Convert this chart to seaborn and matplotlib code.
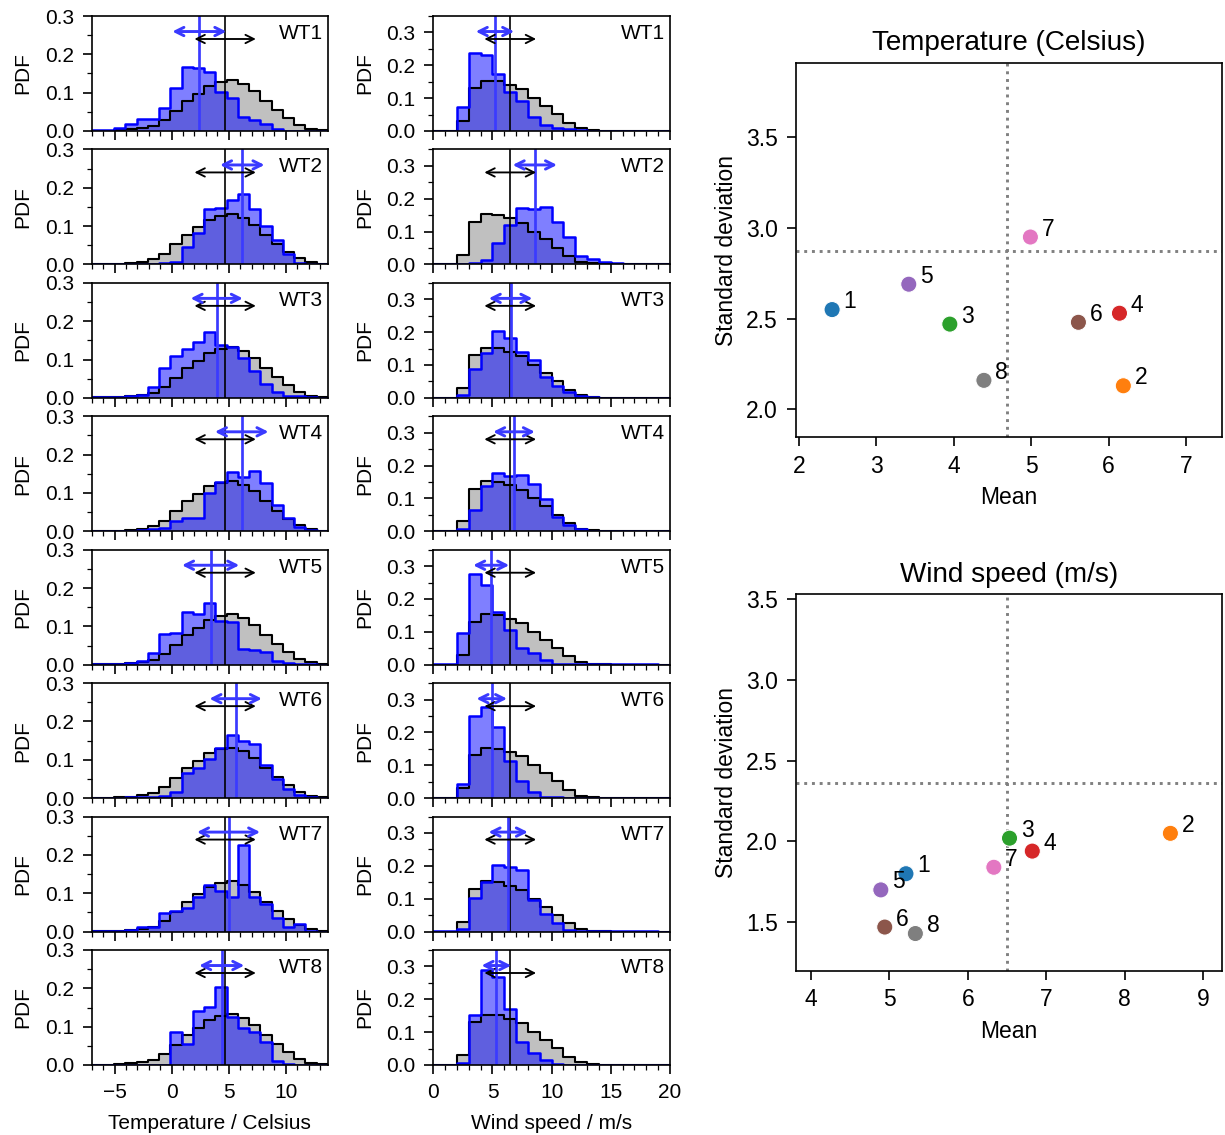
import numpy as np
import pandas as pd
import matplotlib
matplotlib.use("Agg")
import matplotlib.pyplot as plt
from matplotlib.ticker import MultipleLocator
import seaborn as sns

# ---------------------------------------------------------------- data
weather_types = ["WT1", "WT2", "WT3", "WT4", "WT5", "WT6", "WT7", "WT8"]

# Temperature histograms: 21 equal bins spanning -7 .. 13.7 Celsius
temp_range = (-7.0, 13.7)
temp_nbins = 21
temp_all = [0.001, 0.001, 0.002, 0.004, 0.007, 0.013, 0.028, 0.052, 0.078, 0.097, 0.117,
            0.127, 0.132, 0.122, 0.104, 0.078, 0.054, 0.033, 0.016, 0.006, 0.002]
temp_wt1 = [0.002, 0.003, 0.007, 0.018, 0.032, 0.032, 0.061, 0.113, 0.167, 0.165, 0.153,
            0.103, 0.085, 0.037, 0.030, 0.018, 0.004, 0.001, 0.001, 0.001, 0.000]
temp_wt2 = [0.001, 0.001, 0.001, 0.001, 0.001, 0.002, 0.003, 0.006, 0.046, 0.083, 0.144,
            0.146, 0.167, 0.184, 0.145, 0.100, 0.064, 0.026, 0.004, 0.001, 0.000]
temp_wt3 = [0.001, 0.001, 0.002, 0.005, 0.008, 0.029, 0.077, 0.108, 0.128, 0.145, 0.171,
            0.139, 0.133, 0.104, 0.070, 0.036, 0.016, 0.006, 0.004, 0.002, 0.000]
temp_wt4 = [0.001, 0.001, 0.001, 0.002, 0.003, 0.005, 0.008, 0.028, 0.035, 0.035, 0.100,
            0.128, 0.155, 0.141, 0.156, 0.125, 0.068, 0.035, 0.010, 0.003, 0.001]
temp_wt5 = [0.001, 0.001, 0.001, 0.004, 0.010, 0.030, 0.080, 0.083, 0.138, 0.131, 0.162,
            0.115, 0.112, 0.042, 0.038, 0.032, 0.010, 0.004, 0.002, 0.001, 0.000]
temp_wt6 = [0.001, 0.001, 0.001, 0.002, 0.003, 0.004, 0.006, 0.015, 0.065, 0.078, 0.103,
            0.131, 0.166, 0.150, 0.142, 0.087, 0.050, 0.023, 0.007, 0.002, 0.001]
temp_wt7 = [0.001, 0.001, 0.001, 0.004, 0.013, 0.013, 0.048, 0.054, 0.061, 0.091, 0.122,
            0.106, 0.089, 0.226, 0.091, 0.072, 0.035, 0.013, 0.020, 0.002, 0.000]
temp_wt8 = [0.001, 0.001, 0.001, 0.001, 0.001, 0.001, 0.001, 0.085, 0.054, 0.140, 0.152,
            0.204, 0.126, 0.097, 0.087, 0.059, 0.010, 0.002, 0.001, 0.001, 0.000]

# Wind speed histograms: 1 m/s bins from 0 to 20
wind_range = (0.0, 20.0)
wind_nbins = 20
wind_all = [0.000, 0.000, 0.030, 0.130, 0.153, 0.151, 0.140, 0.127, 0.100, 0.076,
            0.051, 0.025, 0.008, 0.003, 0.001, 0.000, 0.000, 0.000, 0.000, 0.000]
wind_wt1 = [0.001, 0.001, 0.072, 0.236, 0.230, 0.174, 0.120, 0.092, 0.043, 0.017,
            0.010, 0.005, 0.002, 0.001, 0.001, 0.001, 0.001, 0.001, 0.001, 0.000]
wind_wt2 = [0.001, 0.001, 0.001, 0.003, 0.012, 0.066, 0.120, 0.172, 0.170, 0.175,
            0.130, 0.082, 0.025, 0.018, 0.008, 0.003, 0.001, 0.001, 0.001, 0.000]
wind_wt3 = [0.001, 0.001, 0.008, 0.087, 0.136, 0.204, 0.182, 0.141, 0.115, 0.064,
            0.037, 0.018, 0.006, 0.002, 0.001, 0.001, 0.001, 0.001, 0.001, 0.000]
wind_wt4 = [0.001, 0.001, 0.007, 0.064, 0.138, 0.177, 0.169, 0.170, 0.145, 0.097,
            0.043, 0.018, 0.006, 0.002, 0.001, 0.001, 0.001, 0.001, 0.001, 0.000]
wind_wt5 = [0.001, 0.002, 0.095, 0.277, 0.243, 0.159, 0.105, 0.051, 0.037, 0.013,
            0.003, 0.001, 0.001, 0.001, 0.001, 0.001, 0.001, 0.001, 0.001, 0.000]
wind_wt6 = [0.001, 0.001, 0.043, 0.250, 0.278, 0.216, 0.112, 0.051, 0.020, 0.005,
            0.002, 0.001, 0.001, 0.001, 0.001, 0.001, 0.001, 0.001, 0.001, 0.000]
wind_wt7 = [0.001, 0.001, 0.008, 0.102, 0.151, 0.202, 0.197, 0.186, 0.097, 0.053,
            0.026, 0.005, 0.002, 0.001, 0.001, 0.001, 0.001, 0.001, 0.001, 0.000]
wind_wt8 = [0.001, 0.001, 0.005, 0.151, 0.289, 0.267, 0.171, 0.071, 0.036, 0.015,
            0.002, 0.001, 0.001, 0.001, 0.001, 0.001, 0.001, 0.001, 0.001, 0.000]

temp_pdfs = [temp_wt1, temp_wt2, temp_wt3, temp_wt4, temp_wt5, temp_wt6, temp_wt7, temp_wt8]
wind_pdfs = [wind_wt1, wind_wt2, wind_wt3, wind_wt4, wind_wt5, wind_wt6, wind_wt7, wind_wt8]

# Summary statistics per weather type and for all days
temp_mean = [2.43, 6.19, 3.95, 6.14, 3.42, 5.61, 4.99, 4.39]
temp_std = [2.55, 2.13, 2.47, 2.53, 2.69, 2.48, 2.95, 2.16]
wind_mean = [5.21, 8.58, 6.53, 6.82, 4.89, 4.94, 6.33, 5.33]
wind_std = [1.80, 2.05, 2.02, 1.94, 1.70, 1.47, 1.84, 1.43]
temp_all_mean, temp_all_std = 4.69, 2.873
wind_all_mean, wind_all_std = 6.50, 2.364
point_labels = ["1", "2", "3", "4", "5", "6", "7", "8"]

# ---------------------------------------------------------------- style
sns.set_style("ticks")
plt.rcParams.update({
    "font.family": ["Liberation Sans", "DejaVu Sans"],
    "font.size": 10,
    "text.color": "black",
    "axes.labelcolor": "black",
    "axes.edgecolor": "black",
    "axes.linewidth": 0.8,
    "xtick.color": "black",
    "ytick.color": "black",
    "xtick.direction": "out",
    "ytick.direction": "out",
    "xtick.major.size": 4.3,
    "ytick.major.size": 4.3,
    "xtick.minor.size": 2.2,
    "ytick.minor.size": 2.2,
    "xtick.major.pad": 4.2,
    "ytick.major.pad": 4.2,
    "xtick.major.width": 0.8,
    "ytick.major.width": 0.8,
    "xtick.minor.width": 0.6,
    "ytick.minor.width": 0.6,
})

W, H = 1225, 1135
fig = plt.figure(figsize=(W / 150, H / 150), dpi=150)


def rect(left, top, right, bottom):
    return [left / W, 1 - bottom / H, (right - left) / W, (bottom - top) / H]


BLUE = "#0000ff"
BLUE_LINE = "#3a3aff"


def hist_panel(ax, all_vals, wt_vals, rng, nbins, m_all, s_all, m_wt, s_wt, ymax, label):
    edges = np.linspace(rng[0], rng[1], nbins + 1)
    centers = 0.5 * (edges[:-1] + edges[1:])
    df = pd.DataFrame({"value": centers, "all": all_vals, "wt": wt_vals})
    common = dict(data=df, x="value", bins=edges.tolist(), stat="count",
                  element="step", ax=ax)
    # filled areas
    sns.histplot(weights="all", fill=True, color="silver", alpha=1.0,
                 edgecolor="none", linewidth=0, **common)
    sns.histplot(weights="wt", fill=True, color=BLUE, alpha=0.5,
                 edgecolor="none", linewidth=0, **common)
    # outlines
    sns.histplot(weights="all", fill=False, color="black", linewidth=1.0, **common)
    sns.histplot(weights="wt", fill=False, color=BLUE, linewidth=1.2, **common)
    # means
    ax.axvline(m_all, color="black", lw=0.8)
    ax.axvline(m_wt, color=BLUE_LINE, lw=1.3)
    # mean +/- one standard deviation
    ax.annotate("", xy=(m_all + s_all, 0.80), xytext=(m_all - s_all, 0.80),
                xycoords=("data", "axes fraction"), textcoords=("data", "axes fraction"),
                arrowprops=dict(arrowstyle="<->", color="black", lw=0.9,
                                shrinkA=1, shrinkB=1))
    ax.annotate("", xy=(m_wt + s_wt, 0.865), xytext=(m_wt - s_wt, 0.865),
                xycoords=("data", "axes fraction"), textcoords=("data", "axes fraction"),
                arrowprops=dict(arrowstyle="<->", color=BLUE_LINE, lw=1.4,
                                shrinkA=1, shrinkB=1))
    ax.text(0.978, 0.80, label, transform=ax.transAxes, ha="right", va="baseline",
            fontsize=10)
    ax.set_xlim(rng)
    ax.set_ylim(0, ymax)
    ax.yaxis.set_major_locator(MultipleLocator(0.1))
    ax.yaxis.set_minor_locator(MultipleLocator(0.05))
    ax.xaxis.set_major_locator(MultipleLocator(5))
    ax.xaxis.set_minor_locator(MultipleLocator(1))
    ax.set_ylabel("PDF", fontsize=10, labelpad=6)
    ax.set_xlabel("")
    ax.tick_params(labelsize=10)


row_pitch = (950 - 16) / 7
for i, wt in enumerate(weather_types):
    top = 16 + i * row_pitch
    bottom = top + 115
    ax_t = fig.add_axes(rect(91.7, top, 328, bottom))
    hist_panel(ax_t, temp_all, temp_pdfs[i], temp_range, temp_nbins,
               temp_all_mean, temp_all_std, temp_mean[i], temp_std[i], 0.3, wt)
    ax_w = fig.add_axes(rect(433.3, top, 670, bottom))
    hist_panel(ax_w, wind_all, wind_pdfs[i], wind_range, wind_nbins,
               wind_all_mean, wind_all_std, wind_mean[i], wind_std[i], 0.35, wt)
    if i < len(weather_types) - 1:
        ax_t.tick_params(labelbottom=False)
        ax_w.tick_params(labelbottom=False)
    else:
        ax_t.set_xlabel("Temperature / Celsius", fontsize=10, labelpad=6)
        ax_w.set_xlabel("Wind speed / m/s", fontsize=10, labelpad=6)


def scatter_panel(ax, means, stds, m_all, s_all, xlim, ylim, title, yticks_step=0.5):
    ax.axvline(m_all, color="gray", ls=":", lw=1.4, zorder=1)
    ax.axhline(s_all, color="gray", ls=":", lw=1.4, zorder=1)
    sns.scatterplot(x=means, y=stds, hue=point_labels, palette="tab10", s=60,
                    edgecolor="white", linewidth=0.5, legend=False, ax=ax, zorder=3)
    for xm, ys, lab in zip(means, stds, point_labels):
        ax.annotate(lab, xy=(xm, ys), xytext=(5.5, 3.8), textcoords="offset points",
                    ha="left", va="center", fontsize=11)
    ax.set_xlim(xlim)
    ax.set_ylim(ylim)
    ax.xaxis.set_major_locator(MultipleLocator(1))
    ax.yaxis.set_major_locator(MultipleLocator(yticks_step))
    ax.set_xlabel("Mean", fontsize=11)
    ax.set_ylabel("Standard deviation", fontsize=11)
    ax.set_title(title, fontsize=13.4, pad=6)
    ax.tick_params(labelsize=11)


ax_s1 = fig.add_axes(rect(795.7, 62.7, 1221.7, 437.3))
scatter_panel(ax_s1, temp_mean, temp_std, temp_all_mean, temp_all_std,
              (1.96, 7.46), (1.846, 3.911), "Temperature (Celsius)")
ax_s2 = fig.add_axes(rect(795.7, 594.3, 1221.7, 970.7))
scatter_panel(ax_s2, wind_mean, wind_std, wind_all_mean, wind_all_std,
              (3.805, 9.234), (1.200, 3.529), "Wind speed (m/s)")

fig.savefig("out.png", dpi=150)
